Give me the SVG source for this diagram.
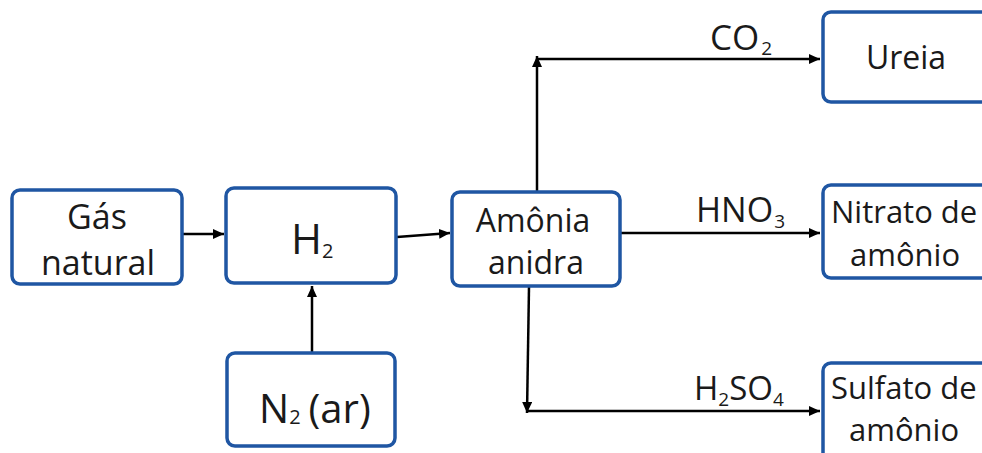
<svg xmlns="http://www.w3.org/2000/svg" width="982" height="453" viewBox="0 0 982 453">
<style>
.box{fill:#fff;stroke:#1f56a3;stroke-width:3.5}
.t{font-family:"Open Sans","DejaVu Sans",sans-serif;fill:#1a1a1a;text-anchor:middle}
.l{font-family:"Open Sans","DejaVu Sans",sans-serif;fill:#1a1a1a}
.c{fill:none;stroke:#000;stroke-width:2.5}
</style>
<defs>
<marker id="ah" markerUnits="userSpaceOnUse" markerWidth="12" markerHeight="10" refX="11" refY="5" orient="auto">
<path d="M0,0 L11,5 L0,10 z" fill="#000"/>
</marker>
</defs>
<rect width="982" height="453" fill="#fff"/>
<g id="connectors">
<line class="c" x1="182" y1="234" x2="224" y2="234" marker-end="url(#ah)"/>
<line class="c" x1="397" y1="237" x2="450" y2="233" marker-end="url(#ah)"/>
<line class="c" x1="312" y1="352" x2="312" y2="286" marker-end="url(#ah)"/>
<line class="c" x1="537" y1="191" x2="537" y2="56" marker-end="url(#ah)"/>
<line class="c" x1="536" y1="59" x2="820" y2="59" marker-end="url(#ah)"/>
<line class="c" x1="621" y1="233" x2="820" y2="233" marker-end="url(#ah)"/>
<line class="c" x1="529" y1="287" x2="527" y2="413" marker-end="url(#ah)"/>
<line class="c" x1="526" y1="411" x2="820" y2="411" marker-end="url(#ah)"/>
<text class="l" x="710" y="50" font-size="35">CO<tspan font-size="19" dy="5" dx="2">2</tspan></text>
<text class="l" x="696" y="222" font-size="34">HNO<tspan font-size="19" dy="6" dx="1">3</tspan></text>
<text class="l" x="694" y="400" font-size="33">H<tspan font-size="19" dy="6">2</tspan><tspan dy="-6">SO</tspan><tspan font-size="19" dy="6">4</tspan></text>
</g>
<g id="gas">
<rect class="box" x="12" y="190" width="170" height="94" rx="8"/>
<text class="t" x="97" y="229" font-size="34">Gás</text>
<text class="t" x="98" y="275" font-size="34">natural</text>
</g>
<g id="h2">
<rect class="box" x="226" y="188" width="170" height="95" rx="8"/>
<text class="l" x="291" y="254" font-size="42">H<tspan font-size="20" dy="4">2</tspan></text>
</g>
<g id="n2">
<rect class="box" x="227" y="353" width="168" height="93" rx="8"/>
<text class="l" x="259" y="423" font-size="40">N<tspan font-size="20" dy="1">2</tspan><tspan dx="8" dy="-1">(ar)</tspan></text>
</g>
<g id="amonia">
<rect class="box" x="452" y="192" width="168" height="94" rx="8"/>
<text class="t" x="533" y="232" font-size="32">Amônia</text>
<text class="t" x="536" y="274" font-size="32">anidra</text>
</g>
<g id="ureia">
<rect class="box" x="823" y="12" width="170" height="90" rx="8"/>
<text class="t" x="906" y="69" font-size="32">Ureia</text>
</g>
<g id="nitrato">
<rect class="box" x="823" y="185" width="170" height="93" rx="8"/>
<text class="l" x="831" y="223" font-size="31">Nitrato de</text>
<text class="t" x="905" y="266" font-size="31">amônio</text>
</g>
<g id="sulfato">
<rect class="box" x="823" y="363" width="170" height="100" rx="8"/>
<text class="l" x="831" y="399" font-size="31">Sulfato de</text>
<text class="t" x="904" y="441" font-size="31">amônio</text>
</g>
</svg>
